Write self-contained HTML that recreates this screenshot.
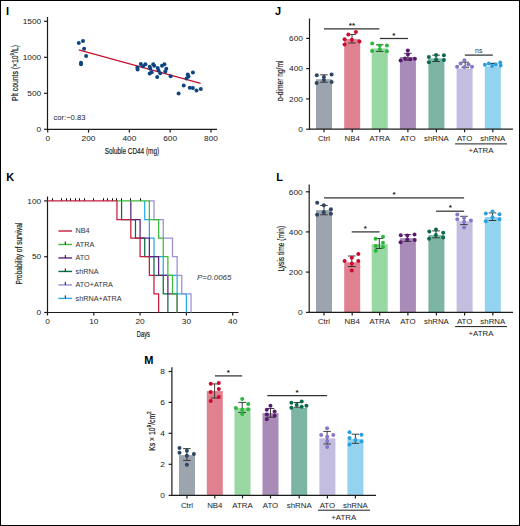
<!DOCTYPE html>
<html><head><meta charset="utf-8"><style>
html,body{margin:0;padding:0;background:#fff;}
.fig{position:relative;width:520px;height:526px;box-sizing:border-box;border:1px solid #000;overflow:hidden;background:#fff;}
svg{position:absolute;left:-1px;top:-1px;}
text{font-family:"Liberation Sans", sans-serif;}
</style></head><body>
<div class="fig"><svg width="520" height="526" viewBox="0 0 520 526">
<text x="6" y="14.6" font-size="11" text-anchor="start" fill="#000" font-weight="bold" font-style="normal" >I</text>
<text x="275" y="14.6" font-size="11" text-anchor="start" fill="#000" font-weight="bold" font-style="normal" >J</text>
<text x="6.3" y="180.8" font-size="11" text-anchor="start" fill="#000" font-weight="bold" font-style="normal" >K</text>
<text x="276.3" y="180.6" font-size="11" text-anchor="start" fill="#000" font-weight="bold" font-style="normal" >L</text>
<text x="144.3" y="363.9" font-size="11" text-anchor="start" fill="#000" font-weight="bold" font-style="normal" >M</text>
<line x1="47.5" y1="17" x2="47.5" y2="129.8" stroke="#1c1c1c" stroke-width="1.2"/>
<line x1="47.0" y1="129.3" x2="217" y2="129.3" stroke="#1c1c1c" stroke-width="1.2"/>
<line x1="44" y1="21.3" x2="47.5" y2="21.3" stroke="#1c1c1c" stroke-width="1.2"/>
<text transform="translate(41.2,24.0) scale(1.1,1)" x="0" y="0" font-size="7.6" text-anchor="end" fill="#222" font-weight="normal" font-style="normal" >1500</text>
<line x1="44" y1="57.3" x2="47.5" y2="57.3" stroke="#1c1c1c" stroke-width="1.2"/>
<text transform="translate(41.2,60.0) scale(1.1,1)" x="0" y="0" font-size="7.6" text-anchor="end" fill="#222" font-weight="normal" font-style="normal" >1000</text>
<line x1="44" y1="93.3" x2="47.5" y2="93.3" stroke="#1c1c1c" stroke-width="1.2"/>
<text transform="translate(41.2,96.0) scale(1.1,1)" x="0" y="0" font-size="7.6" text-anchor="end" fill="#222" font-weight="normal" font-style="normal" >500</text>
<line x1="44" y1="129.3" x2="47.5" y2="129.3" stroke="#1c1c1c" stroke-width="1.2"/>
<text transform="translate(41.2,132.0) scale(1.1,1)" x="0" y="0" font-size="7.6" text-anchor="end" fill="#222" font-weight="normal" font-style="normal" >0</text>
<line x1="47.7" y1="129.3" x2="47.7" y2="132.6" stroke="#1c1c1c" stroke-width="1.2"/>
<text transform="translate(47.7,141.3) scale(1.1,1)" x="0" y="0" font-size="7.6" text-anchor="middle" fill="#222" font-weight="normal" font-style="normal" >0</text>
<line x1="88.52000000000001" y1="129.3" x2="88.52000000000001" y2="132.6" stroke="#1c1c1c" stroke-width="1.2"/>
<text transform="translate(88.52000000000001,141.3) scale(1.1,1)" x="0" y="0" font-size="7.6" text-anchor="middle" fill="#222" font-weight="normal" font-style="normal" >200</text>
<line x1="129.34" y1="129.3" x2="129.34" y2="132.6" stroke="#1c1c1c" stroke-width="1.2"/>
<text transform="translate(129.34,141.3) scale(1.1,1)" x="0" y="0" font-size="7.6" text-anchor="middle" fill="#222" font-weight="normal" font-style="normal" >400</text>
<line x1="170.16" y1="129.3" x2="170.16" y2="132.6" stroke="#1c1c1c" stroke-width="1.2"/>
<text transform="translate(170.16,141.3) scale(1.1,1)" x="0" y="0" font-size="7.6" text-anchor="middle" fill="#222" font-weight="normal" font-style="normal" >600</text>
<line x1="210.98000000000002" y1="129.3" x2="210.98000000000002" y2="132.6" stroke="#1c1c1c" stroke-width="1.2"/>
<text transform="translate(210.98000000000002,141.3) scale(1.1,1)" x="0" y="0" font-size="7.6" text-anchor="middle" fill="#222" font-weight="normal" font-style="normal" >800</text>
<text x="53.5" y="120.0" font-size="7.6" text-anchor="start" fill="#222" font-weight="normal" font-style="normal" >cor:&#8722;0.83</text>
<text transform="translate(131.9,154) scale(0.752,1)" x="0" y="0" font-size="8.5" text-anchor="middle" fill="#222" stroke="#222" stroke-width="0.2">Soluble CD44 (mg)</text>
<text transform="translate(14.8,73) rotate(-90) scale(0.8,1)" x="0" y="0" font-size="8.5" text-anchor="middle" dominant-baseline="central" fill="#222" stroke="#222" stroke-width="0.2">Plt counts (&#215;10<tspan dy="-3" font-size="5.5">9</tspan><tspan dy="3">/L)</tspan></text>
<line x1="78.7" y1="49.8" x2="200.6" y2="83.3" stroke="#c8102e" stroke-width="1.3"/>
<circle cx="78.8" cy="43.1" r="2.0" fill="#0c4581"/>
<circle cx="83.0" cy="41.1" r="2.0" fill="#0c4581"/>
<circle cx="84.1" cy="48.8" r="2.0" fill="#0c4581"/>
<circle cx="86.1" cy="55.9" r="2.0" fill="#0c4581"/>
<circle cx="81" cy="62.8" r="2.0" fill="#0c4581"/>
<circle cx="81" cy="64.2" r="2.0" fill="#0c4581"/>
<circle cx="137.4" cy="67.5" r="2.0" fill="#0c4581"/>
<circle cx="137.6" cy="69.5" r="2.0" fill="#0c4581"/>
<circle cx="140.8" cy="64.1" r="2.0" fill="#0c4581"/>
<circle cx="143" cy="66.2" r="2.0" fill="#0c4581"/>
<circle cx="145.4" cy="64.3" r="2.0" fill="#0c4581"/>
<circle cx="149.7" cy="66.7" r="2.0" fill="#0c4581"/>
<circle cx="150.3" cy="68.8" r="2.0" fill="#0c4581"/>
<circle cx="149.7" cy="73.6" r="2.0" fill="#0c4581"/>
<circle cx="151.6" cy="72.3" r="2.0" fill="#0c4581"/>
<circle cx="153.2" cy="64.3" r="2.0" fill="#0c4581"/>
<circle cx="154.2" cy="65.8" r="2.0" fill="#0c4581"/>
<circle cx="157.7" cy="68" r="2.0" fill="#0c4581"/>
<circle cx="158.5" cy="70.6" r="2.0" fill="#0c4581"/>
<circle cx="160.3" cy="73.2" r="2.0" fill="#0c4581"/>
<circle cx="157.2" cy="77.1" r="2.0" fill="#0c4581"/>
<circle cx="162" cy="65.8" r="2.0" fill="#0c4581"/>
<circle cx="164.4" cy="64.3" r="2.0" fill="#0c4581"/>
<circle cx="166.3" cy="68.8" r="2.0" fill="#0c4581"/>
<circle cx="165.3" cy="71.4" r="2.0" fill="#0c4581"/>
<circle cx="170.6" cy="76.2" r="2.0" fill="#0c4581"/>
<circle cx="187.8" cy="74.4" r="2.0" fill="#0c4581"/>
<circle cx="188.5" cy="76.5" r="2.0" fill="#0c4581"/>
<circle cx="186.5" cy="78.5" r="2.0" fill="#0c4581"/>
<circle cx="192.9" cy="72.5" r="2.0" fill="#0c4581"/>
<circle cx="183.7" cy="85.6" r="2.0" fill="#0c4581"/>
<circle cx="189.8" cy="87.7" r="2.0" fill="#0c4581"/>
<circle cx="192.9" cy="87.9" r="2.0" fill="#0c4581"/>
<circle cx="196.5" cy="90.4" r="2.0" fill="#0c4581"/>
<circle cx="200.8" cy="89" r="2.0" fill="#0c4581"/>
<circle cx="178.6" cy="93.5" r="2.0" fill="#0c4581"/>
<rect x="316" y="79.2" width="16" height="49.999999999999986" fill="#9ca5ae"/>
<rect x="344.2" y="39.1" width="16" height="90.1" fill="#e0818f"/>
<rect x="371.7" y="48.4" width="16" height="80.79999999999998" fill="#98d8a3"/>
<rect x="399.9" y="57.0" width="16" height="72.19999999999999" fill="#a98bb7"/>
<rect x="428.4" y="58.4" width="16" height="70.79999999999998" fill="#7db5a4"/>
<rect x="456.6" y="68.5" width="16" height="60.69999999999999" fill="#c3bee0"/>
<rect x="484.8" y="66.4" width="16" height="62.79999999999998" fill="#94d3ef"/>
<line x1="309.5" y1="18.5" x2="309.5" y2="129.7" stroke="#1c1c1c" stroke-width="1.2"/>
<line x1="309.0" y1="129.2" x2="513" y2="129.2" stroke="#1c1c1c" stroke-width="1.2"/>
<line x1="306.2" y1="38.4" x2="309.5" y2="38.4" stroke="#1c1c1c" stroke-width="1.2"/>
<text transform="translate(303,41.1) scale(1.1,1)" x="0" y="0" font-size="7.6" text-anchor="end" fill="#222" font-weight="normal" font-style="normal" >600</text>
<line x1="306.2" y1="68.6" x2="309.5" y2="68.6" stroke="#1c1c1c" stroke-width="1.2"/>
<text transform="translate(303,71.3) scale(1.1,1)" x="0" y="0" font-size="7.6" text-anchor="end" fill="#222" font-weight="normal" font-style="normal" >400</text>
<line x1="306.2" y1="98.9" x2="309.5" y2="98.9" stroke="#1c1c1c" stroke-width="1.2"/>
<text transform="translate(303,101.60000000000001) scale(1.1,1)" x="0" y="0" font-size="7.6" text-anchor="end" fill="#222" font-weight="normal" font-style="normal" >200</text>
<line x1="306.2" y1="129.2" x2="309.5" y2="129.2" stroke="#1c1c1c" stroke-width="1.2"/>
<text transform="translate(303,131.89999999999998) scale(1.1,1)" x="0" y="0" font-size="7.6" text-anchor="end" fill="#222" font-weight="normal" font-style="normal" >0</text>
<line x1="324" y1="129.2" x2="324" y2="132.2" stroke="#1c1c1c" stroke-width="1.2"/>
<text transform="translate(324,141.2) scale(1.05,1)" x="0" y="0" font-size="7.5" text-anchor="middle" fill="#222" font-weight="normal" font-style="normal" >Ctrl</text>
<line x1="352.2" y1="129.2" x2="352.2" y2="132.2" stroke="#1c1c1c" stroke-width="1.2"/>
<text transform="translate(352.2,141.2) scale(1.05,1)" x="0" y="0" font-size="7.5" text-anchor="middle" fill="#222" font-weight="normal" font-style="normal" >NB4</text>
<line x1="379.7" y1="129.2" x2="379.7" y2="132.2" stroke="#1c1c1c" stroke-width="1.2"/>
<text transform="translate(379.7,141.2) scale(1.05,1)" x="0" y="0" font-size="7.5" text-anchor="middle" fill="#222" font-weight="normal" font-style="normal" >ATRA</text>
<line x1="407.9" y1="129.2" x2="407.9" y2="132.2" stroke="#1c1c1c" stroke-width="1.2"/>
<text transform="translate(407.9,141.2) scale(1.05,1)" x="0" y="0" font-size="7.5" text-anchor="middle" fill="#222" font-weight="normal" font-style="normal" >ATO</text>
<line x1="436.4" y1="129.2" x2="436.4" y2="132.2" stroke="#1c1c1c" stroke-width="1.2"/>
<text transform="translate(436.4,141.2) scale(1.05,1)" x="0" y="0" font-size="7.5" text-anchor="middle" fill="#222" font-weight="normal" font-style="normal" >shRNA</text>
<line x1="464.6" y1="129.2" x2="464.6" y2="132.2" stroke="#1c1c1c" stroke-width="1.2"/>
<text transform="translate(464.6,141.2) scale(1.05,1)" x="0" y="0" font-size="7.5" text-anchor="middle" fill="#222" font-weight="normal" font-style="normal" >ATO</text>
<line x1="492.8" y1="129.2" x2="492.8" y2="132.2" stroke="#1c1c1c" stroke-width="1.2"/>
<text transform="translate(492.8,141.2) scale(1.05,1)" x="0" y="0" font-size="7.5" text-anchor="middle" fill="#222" font-weight="normal" font-style="normal" >shRNA</text>
<line x1="455.1" y1="143.9" x2="507" y2="143.9" stroke="#1c1c1c" stroke-width="1.0"/>
<text transform="translate(481.00000000000006,152.8) scale(1.05,1)" x="0" y="0" font-size="7.5" text-anchor="middle" fill="#222" font-weight="normal" font-style="normal" >+ATRA</text>
<text transform="translate(280.4,80.8) rotate(-90) scale(0.778,1)" x="0" y="0" font-size="8.5" text-anchor="middle" dominant-baseline="central" fill="#222" stroke="#222" stroke-width="0.2"><tspan font-size="6.5">D</tspan>-dimer ng/ml</text>
<line x1="323.9" y1="74.8" x2="323.9" y2="82.2" stroke="#2a2a2a" stroke-width="0.9"/>
<line x1="320.09999999999997" y1="74.8" x2="327.7" y2="74.8" stroke="#2a2a2a" stroke-width="0.9"/>
<line x1="320.09999999999997" y1="82.2" x2="327.7" y2="82.2" stroke="#2a2a2a" stroke-width="0.9"/>
<line x1="352" y1="34.5" x2="352" y2="43" stroke="#2a2a2a" stroke-width="0.9"/>
<line x1="348.2" y1="34.5" x2="355.8" y2="34.5" stroke="#2a2a2a" stroke-width="0.9"/>
<line x1="348.2" y1="43" x2="355.8" y2="43" stroke="#2a2a2a" stroke-width="0.9"/>
<line x1="379.7" y1="44.8" x2="379.7" y2="51.4" stroke="#2a2a2a" stroke-width="0.9"/>
<line x1="375.9" y1="44.8" x2="383.5" y2="44.8" stroke="#2a2a2a" stroke-width="0.9"/>
<line x1="375.9" y1="51.4" x2="383.5" y2="51.4" stroke="#2a2a2a" stroke-width="0.9"/>
<line x1="407.9" y1="53.3" x2="407.9" y2="60.2" stroke="#2a2a2a" stroke-width="0.9"/>
<line x1="404.09999999999997" y1="53.3" x2="411.7" y2="53.3" stroke="#2a2a2a" stroke-width="0.9"/>
<line x1="404.09999999999997" y1="60.2" x2="411.7" y2="60.2" stroke="#2a2a2a" stroke-width="0.9"/>
<line x1="436.1" y1="55.2" x2="436.1" y2="61.5" stroke="#2a2a2a" stroke-width="0.9"/>
<line x1="432.3" y1="55.2" x2="439.90000000000003" y2="55.2" stroke="#2a2a2a" stroke-width="0.9"/>
<line x1="432.3" y1="61.5" x2="439.90000000000003" y2="61.5" stroke="#2a2a2a" stroke-width="0.9"/>
<line x1="465.2" y1="62.2" x2="465.2" y2="67.3" stroke="#2a2a2a" stroke-width="0.9"/>
<line x1="461.4" y1="62.2" x2="469.0" y2="62.2" stroke="#2a2a2a" stroke-width="0.9"/>
<line x1="461.4" y1="67.3" x2="469.0" y2="67.3" stroke="#2a2a2a" stroke-width="0.9"/>
<line x1="492.9" y1="63.3" x2="492.9" y2="63.9" stroke="#2a2a2a" stroke-width="0.9"/>
<line x1="489.09999999999997" y1="63.3" x2="496.7" y2="63.3" stroke="#2a2a2a" stroke-width="0.9"/>
<line x1="489.09999999999997" y1="63.9" x2="496.7" y2="63.9" stroke="#2a2a2a" stroke-width="0.9"/>
<circle cx="316.8" cy="75.3" r="2.0" fill="#2e4560"/>
<circle cx="331.6" cy="74.4" r="2.0" fill="#2e4560"/>
<circle cx="316.6" cy="82.9" r="2.0" fill="#2e4560"/>
<circle cx="331.6" cy="81.9" r="2.0" fill="#2e4560"/>
<circle cx="323.9" cy="77" r="2.0" fill="#2e4560"/>
<circle cx="323.9" cy="80" r="2.0" fill="#2e4560"/>
<circle cx="355.9" cy="32.1" r="2.0" fill="#cc0a2e"/>
<circle cx="348.3" cy="34.4" r="2.0" fill="#cc0a2e"/>
<circle cx="344.6" cy="39.3" r="2.0" fill="#cc0a2e"/>
<circle cx="351.9" cy="39.8" r="2.0" fill="#cc0a2e"/>
<circle cx="359.4" cy="41.4" r="2.0" fill="#cc0a2e"/>
<circle cx="344.6" cy="44.4" r="2.0" fill="#cc0a2e"/>
<circle cx="372.2" cy="43.5" r="2.0" fill="#2cb83c"/>
<circle cx="386.9" cy="45.4" r="2.0" fill="#2cb83c"/>
<circle cx="372.1" cy="50.9" r="2.0" fill="#2cb83c"/>
<circle cx="386.9" cy="51.2" r="2.0" fill="#2cb83c"/>
<circle cx="379.8" cy="45.4" r="2.0" fill="#2cb83c"/>
<circle cx="379.8" cy="49.3" r="2.0" fill="#2cb83c"/>
<circle cx="407.8" cy="50.4" r="2.0" fill="#5b1a72"/>
<circle cx="407.9" cy="54.5" r="2.0" fill="#5b1a72"/>
<circle cx="405" cy="58.4" r="2.0" fill="#5b1a72"/>
<circle cx="410.3" cy="59.2" r="2.0" fill="#5b1a72"/>
<circle cx="414.9" cy="58.8" r="2.0" fill="#5b1a72"/>
<circle cx="400.6" cy="60.5" r="2.0" fill="#5b1a72"/>
<circle cx="428.9" cy="56.9" r="2.0" fill="#0b6a4c"/>
<circle cx="428.9" cy="62.2" r="2.0" fill="#0b6a4c"/>
<circle cx="436.1" cy="54.9" r="2.0" fill="#0b6a4c"/>
<circle cx="436.1" cy="59.5" r="2.0" fill="#0b6a4c"/>
<circle cx="443.9" cy="55.2" r="2.0" fill="#0b6a4c"/>
<circle cx="443.9" cy="60.1" r="2.0" fill="#0b6a4c"/>
<circle cx="464.4" cy="60.2" r="2.0" fill="#8877c6"/>
<circle cx="460.6" cy="63.6" r="2.0" fill="#8877c6"/>
<circle cx="468.5" cy="64.5" r="2.0" fill="#8877c6"/>
<circle cx="457.1" cy="66.7" r="2.0" fill="#8877c6"/>
<circle cx="464.4" cy="67" r="2.0" fill="#8877c6"/>
<circle cx="472" cy="66.7" r="2.0" fill="#8877c6"/>
<circle cx="484.9" cy="64.8" r="2.0" fill="#2a9fe2"/>
<circle cx="488.8" cy="63.4" r="2.0" fill="#2a9fe2"/>
<circle cx="492.1" cy="65.9" r="2.0" fill="#2a9fe2"/>
<circle cx="495.8" cy="64.5" r="2.0" fill="#2a9fe2"/>
<circle cx="500.2" cy="62.5" r="2.0" fill="#2a9fe2"/>
<circle cx="500.6" cy="65.5" r="2.0" fill="#2a9fe2"/>
<line x1="324" y1="28.8" x2="379.4" y2="28.8" stroke="#333" stroke-width="1.25"/>
<text x="351.9" y="27.799999999999997" font-size="8" text-anchor="middle" fill="#111" font-weight="bold" font-style="normal" >**</text>
<line x1="379.8" y1="38.5" x2="408" y2="38.5" stroke="#333" stroke-width="1.25"/>
<text x="393.8" y="37.5" font-size="8" text-anchor="middle" fill="#111" font-weight="bold" font-style="normal" >*</text>
<line x1="464.8" y1="55.1" x2="492.8" y2="55.1" stroke="#333" stroke-width="1.25"/>
<text x="478.8" y="53" font-size="7" text-anchor="middle" fill="#333" font-weight="normal" font-style="normal" >ns</text>
<line x1="47.5" y1="196.5" x2="47.5" y2="313.0" stroke="#1c1c1c" stroke-width="1.2"/>
<line x1="47.0" y1="312.5" x2="238.5" y2="312.5" stroke="#1c1c1c" stroke-width="1.2"/>
<line x1="44.2" y1="200.9" x2="47.5" y2="200.9" stroke="#1c1c1c" stroke-width="1.2"/>
<text transform="translate(41.2,203.6) scale(1.1,1)" x="0" y="0" font-size="7.6" text-anchor="end" fill="#222" font-weight="normal" font-style="normal" >100</text>
<line x1="44.2" y1="256.7" x2="47.5" y2="256.7" stroke="#1c1c1c" stroke-width="1.2"/>
<text transform="translate(41.2,259.4) scale(1.1,1)" x="0" y="0" font-size="7.6" text-anchor="end" fill="#222" font-weight="normal" font-style="normal" >50</text>
<line x1="44.2" y1="312.5" x2="47.5" y2="312.5" stroke="#1c1c1c" stroke-width="1.2"/>
<text transform="translate(41.2,315.2) scale(1.1,1)" x="0" y="0" font-size="7.6" text-anchor="end" fill="#222" font-weight="normal" font-style="normal" >0</text>
<line x1="47.5" y1="312.5" x2="47.5" y2="315.5" stroke="#1c1c1c" stroke-width="1.2"/>
<text transform="translate(47.5,323.8) scale(1.1,1)" x="0" y="0" font-size="7.6" text-anchor="middle" fill="#222" font-weight="normal" font-style="normal" >0</text>
<line x1="93.8" y1="312.5" x2="93.8" y2="315.5" stroke="#1c1c1c" stroke-width="1.2"/>
<text transform="translate(93.8,323.8) scale(1.1,1)" x="0" y="0" font-size="7.6" text-anchor="middle" fill="#222" font-weight="normal" font-style="normal" >10</text>
<line x1="140.1" y1="312.5" x2="140.1" y2="315.5" stroke="#1c1c1c" stroke-width="1.2"/>
<text transform="translate(140.1,323.8) scale(1.1,1)" x="0" y="0" font-size="7.6" text-anchor="middle" fill="#222" font-weight="normal" font-style="normal" >20</text>
<line x1="186.4" y1="312.5" x2="186.4" y2="315.5" stroke="#1c1c1c" stroke-width="1.2"/>
<text transform="translate(186.4,323.8) scale(1.1,1)" x="0" y="0" font-size="7.6" text-anchor="middle" fill="#222" font-weight="normal" font-style="normal" >30</text>
<line x1="232.7" y1="312.5" x2="232.7" y2="315.5" stroke="#1c1c1c" stroke-width="1.2"/>
<text transform="translate(232.7,323.8) scale(1.1,1)" x="0" y="0" font-size="7.6" text-anchor="middle" fill="#222" font-weight="normal" font-style="normal" >40</text>
<text transform="translate(143.4,336.5) scale(0.68,1)" x="0" y="0" font-size="8.5" text-anchor="middle" fill="#222" stroke="#222" stroke-width="0.2">Days</text>
<text transform="translate(19.1,253.6) rotate(-90) scale(0.77,1)" x="0" y="0" font-size="8.5" text-anchor="middle" dominant-baseline="central" fill="#222" stroke="#222" stroke-width="0.2">Probability of survival</text>
<path d="M121.58,200.90 H121.58 V219.50 H135.47 V238.10 H144.73 V256.70 H153.99 V275.30 H163.25 V293.90 H167.88 V312.50" fill="none" stroke="#0b6a4c" stroke-width="1.25" stroke-linejoin="miter"/>
<path d="M144.73,200.90 H144.73 V219.50 H149.36 V238.10 H153.99 V256.70 H163.25 V275.30 H177.14 V293.90 H186.40 V312.50" fill="none" stroke="#27a9e6" stroke-width="1.25" stroke-linejoin="miter"/>
<path d="M130.84,200.90 H130.84 V219.50 H140.10 V238.10 H149.36 V256.70 H158.62 V275.30 H167.88 V293.90 H177.14 V312.50" fill="none" stroke="#5e237c" stroke-width="1.25" stroke-linejoin="miter"/>
<path d="M149.36,200.90 H153.99 V219.50 H163.25 V238.10 H172.51 V256.70 H177.14 V275.30 H181.77 V293.90 H191.03 V312.50" fill="none" stroke="#9a8fd4" stroke-width="1.25" stroke-linejoin="miter"/>
<path d="M116.95,200.90 H149.36 V219.50 H158.62 V238.10 H163.25 V256.70 H167.88 V275.30 H172.51 V293.90 H177.14 V312.50" fill="none" stroke="#3cbc3c" stroke-width="1.25" stroke-linejoin="miter"/>
<path d="M47.50,200.90 H116.95 V219.50 H130.84 V238.10 H140.10 V256.70 H149.36 V275.30 H153.99 V293.90 H158.62 V312.50" fill="none" stroke="#c81c3c" stroke-width="1.25" stroke-linejoin="miter"/>
<line x1="52.5" y1="198.3" x2="52.5" y2="200.5" stroke="#000" stroke-width="1.0"/>
<line x1="61.5" y1="198.3" x2="61.5" y2="200.5" stroke="#000" stroke-width="1.0"/>
<line x1="66.5" y1="198.3" x2="66.5" y2="200.5" stroke="#000" stroke-width="1.0"/>
<line x1="70.5" y1="198.3" x2="70.5" y2="200.5" stroke="#000" stroke-width="1.0"/>
<line x1="75.5" y1="198.3" x2="75.5" y2="200.5" stroke="#000" stroke-width="1.0"/>
<line x1="79.5" y1="198.3" x2="79.5" y2="200.5" stroke="#000" stroke-width="1.0"/>
<line x1="84.5" y1="198.3" x2="84.5" y2="200.5" stroke="#000" stroke-width="1.0"/>
<line x1="93.5" y1="198.3" x2="93.5" y2="200.5" stroke="#000" stroke-width="1.0"/>
<line x1="103.5" y1="198.3" x2="103.5" y2="200.5" stroke="#000" stroke-width="1.0"/>
<line x1="107.5" y1="198.3" x2="107.5" y2="200.5" stroke="#000" stroke-width="1.0"/>
<line x1="112.5" y1="198.3" x2="112.5" y2="200.5" stroke="#000" stroke-width="1.0"/>
<line x1="116.5" y1="198.3" x2="116.5" y2="200.5" stroke="#000" stroke-width="1.0"/>
<line x1="121.5" y1="198.3" x2="121.5" y2="200.5" stroke="#000" stroke-width="1.0"/>
<line x1="130.5" y1="198.3" x2="130.5" y2="200.5" stroke="#000" stroke-width="1.0"/>
<line x1="140.5" y1="198.3" x2="140.5" y2="200.5" stroke="#000" stroke-width="1.0"/>
<line x1="58.4" y1="231.0" x2="72.1" y2="231.0" stroke="#c81c3c" stroke-width="1.4"/>
<text transform="translate(75.5,233.3) scale(0.97,1)" x="0" y="0" font-size="7.5" text-anchor="start" fill="#333" font-weight="normal" font-style="normal" >NB4</text>
<line x1="58.4" y1="244.48" x2="72.1" y2="244.48" stroke="#3cbc3c" stroke-width="1.4"/>
<line x1="65.3" y1="241.48" x2="65.3" y2="244.48" stroke="#111" stroke-width="1.0"/>
<text transform="translate(75.5,246.78) scale(0.97,1)" x="0" y="0" font-size="7.5" text-anchor="start" fill="#333" font-weight="normal" font-style="normal" >ATRA</text>
<line x1="58.4" y1="257.96" x2="72.1" y2="257.96" stroke="#5e237c" stroke-width="1.4"/>
<line x1="65.3" y1="254.95999999999998" x2="65.3" y2="257.96" stroke="#111" stroke-width="1.0"/>
<text transform="translate(75.5,260.26) scale(0.97,1)" x="0" y="0" font-size="7.5" text-anchor="start" fill="#333" font-weight="normal" font-style="normal" >ATO</text>
<line x1="58.4" y1="271.44" x2="72.1" y2="271.44" stroke="#0b6a4c" stroke-width="1.4"/>
<line x1="65.3" y1="268.44" x2="65.3" y2="271.44" stroke="#111" stroke-width="1.0"/>
<text transform="translate(75.5,273.74) scale(0.97,1)" x="0" y="0" font-size="7.5" text-anchor="start" fill="#333" font-weight="normal" font-style="normal" >shRNA</text>
<line x1="58.4" y1="284.92" x2="72.1" y2="284.92" stroke="#9a8fd4" stroke-width="1.4"/>
<line x1="65.3" y1="281.92" x2="65.3" y2="284.92" stroke="#111" stroke-width="1.0"/>
<text transform="translate(75.5,287.22) scale(0.97,1)" x="0" y="0" font-size="7.5" text-anchor="start" fill="#333" font-weight="normal" font-style="normal" >ATO+ATRA</text>
<line x1="58.4" y1="298.4" x2="72.1" y2="298.4" stroke="#27a9e6" stroke-width="1.4"/>
<line x1="65.3" y1="295.4" x2="65.3" y2="298.4" stroke="#111" stroke-width="1.0"/>
<text transform="translate(75.5,300.7) scale(0.97,1)" x="0" y="0" font-size="7.5" text-anchor="start" fill="#333" font-weight="normal" font-style="normal" >shRNA+ATRA</text>
<text x="197" y="280" font-size="8" text-anchor="start" fill="#333" font-weight="normal" font-style="italic" >P=0.0065</text>
<rect x="316" y="210.1" width="16" height="102.29999999999998" fill="#9ca5ae"/>
<rect x="344.2" y="262.3" width="16" height="50.099999999999966" fill="#e0818f"/>
<rect x="371.7" y="244.1" width="16" height="68.29999999999998" fill="#98d8a3"/>
<rect x="399.9" y="238.2" width="16" height="74.19999999999999" fill="#a98bb7"/>
<rect x="428.4" y="235.1" width="16" height="77.29999999999998" fill="#7db5a4"/>
<rect x="456.6" y="221.2" width="16" height="91.19999999999999" fill="#c3bee0"/>
<rect x="484.8" y="217.1" width="16" height="95.29999999999998" fill="#94d3ef"/>
<line x1="309.2" y1="184.4" x2="309.2" y2="312.9" stroke="#1c1c1c" stroke-width="1.2"/>
<line x1="308.7" y1="312.4" x2="513" y2="312.4" stroke="#1c1c1c" stroke-width="1.2"/>
<line x1="305.9" y1="191.8" x2="309.2" y2="191.8" stroke="#1c1c1c" stroke-width="1.2"/>
<text transform="translate(302.7,194.5) scale(1.1,1)" x="0" y="0" font-size="7.6" text-anchor="end" fill="#222" font-weight="normal" font-style="normal" >600</text>
<line x1="305.9" y1="231.9" x2="309.2" y2="231.9" stroke="#1c1c1c" stroke-width="1.2"/>
<text transform="translate(302.7,234.6) scale(1.1,1)" x="0" y="0" font-size="7.6" text-anchor="end" fill="#222" font-weight="normal" font-style="normal" >400</text>
<line x1="305.9" y1="272.1" x2="309.2" y2="272.1" stroke="#1c1c1c" stroke-width="1.2"/>
<text transform="translate(302.7,274.8) scale(1.1,1)" x="0" y="0" font-size="7.6" text-anchor="end" fill="#222" font-weight="normal" font-style="normal" >200</text>
<line x1="305.9" y1="312.4" x2="309.2" y2="312.4" stroke="#1c1c1c" stroke-width="1.2"/>
<text transform="translate(302.7,315.09999999999997) scale(1.1,1)" x="0" y="0" font-size="7.6" text-anchor="end" fill="#222" font-weight="normal" font-style="normal" >0</text>
<line x1="324" y1="312.4" x2="324" y2="315.4" stroke="#1c1c1c" stroke-width="1.2"/>
<text transform="translate(324,324.0) scale(1.05,1)" x="0" y="0" font-size="7.5" text-anchor="middle" fill="#222" font-weight="normal" font-style="normal" >Ctrl</text>
<line x1="352.2" y1="312.4" x2="352.2" y2="315.4" stroke="#1c1c1c" stroke-width="1.2"/>
<text transform="translate(352.2,324.0) scale(1.05,1)" x="0" y="0" font-size="7.5" text-anchor="middle" fill="#222" font-weight="normal" font-style="normal" >NB4</text>
<line x1="379.7" y1="312.4" x2="379.7" y2="315.4" stroke="#1c1c1c" stroke-width="1.2"/>
<text transform="translate(379.7,324.0) scale(1.05,1)" x="0" y="0" font-size="7.5" text-anchor="middle" fill="#222" font-weight="normal" font-style="normal" >ATRA</text>
<line x1="407.9" y1="312.4" x2="407.9" y2="315.4" stroke="#1c1c1c" stroke-width="1.2"/>
<text transform="translate(407.9,324.0) scale(1.05,1)" x="0" y="0" font-size="7.5" text-anchor="middle" fill="#222" font-weight="normal" font-style="normal" >ATO</text>
<line x1="436.4" y1="312.4" x2="436.4" y2="315.4" stroke="#1c1c1c" stroke-width="1.2"/>
<text transform="translate(436.4,324.0) scale(1.05,1)" x="0" y="0" font-size="7.5" text-anchor="middle" fill="#222" font-weight="normal" font-style="normal" >shRNA</text>
<line x1="464.6" y1="312.4" x2="464.6" y2="315.4" stroke="#1c1c1c" stroke-width="1.2"/>
<text transform="translate(464.6,324.0) scale(1.05,1)" x="0" y="0" font-size="7.5" text-anchor="middle" fill="#222" font-weight="normal" font-style="normal" >ATO</text>
<line x1="492.8" y1="312.4" x2="492.8" y2="315.4" stroke="#1c1c1c" stroke-width="1.2"/>
<text transform="translate(492.8,324.0) scale(1.05,1)" x="0" y="0" font-size="7.5" text-anchor="middle" fill="#222" font-weight="normal" font-style="normal" >shRNA</text>
<line x1="455.1" y1="326.6" x2="507" y2="326.6" stroke="#1c1c1c" stroke-width="1.0"/>
<text transform="translate(481.00000000000006,336.0) scale(1.05,1)" x="0" y="0" font-size="7.5" text-anchor="middle" fill="#222" font-weight="normal" font-style="normal" >+ATRA</text>
<text transform="translate(281.3,248.7) rotate(-90) scale(0.776,1)" x="0" y="0" font-size="8.5" text-anchor="middle" dominant-baseline="central" fill="#222" stroke="#222" stroke-width="0.2">Lysis time (min)</text>
<line x1="324" y1="205.4" x2="324" y2="214.8" stroke="#2a2a2a" stroke-width="0.9"/>
<line x1="320.2" y1="205.4" x2="327.8" y2="205.4" stroke="#2a2a2a" stroke-width="0.9"/>
<line x1="320.2" y1="214.8" x2="327.8" y2="214.8" stroke="#2a2a2a" stroke-width="0.9"/>
<line x1="351.8" y1="256" x2="351.8" y2="266.5" stroke="#2a2a2a" stroke-width="0.9"/>
<line x1="348.0" y1="256" x2="355.6" y2="256" stroke="#2a2a2a" stroke-width="0.9"/>
<line x1="348.0" y1="266.5" x2="355.6" y2="266.5" stroke="#2a2a2a" stroke-width="0.9"/>
<line x1="379.3" y1="238.5" x2="379.3" y2="248.5" stroke="#2a2a2a" stroke-width="0.9"/>
<line x1="375.5" y1="238.5" x2="383.1" y2="238.5" stroke="#2a2a2a" stroke-width="0.9"/>
<line x1="375.5" y1="248.5" x2="383.1" y2="248.5" stroke="#2a2a2a" stroke-width="0.9"/>
<line x1="407.5" y1="234.7" x2="407.5" y2="241.4" stroke="#2a2a2a" stroke-width="0.9"/>
<line x1="403.7" y1="234.7" x2="411.3" y2="234.7" stroke="#2a2a2a" stroke-width="0.9"/>
<line x1="403.7" y1="241.4" x2="411.3" y2="241.4" stroke="#2a2a2a" stroke-width="0.9"/>
<line x1="436" y1="230.9" x2="436" y2="237.8" stroke="#2a2a2a" stroke-width="0.9"/>
<line x1="432.2" y1="230.9" x2="439.8" y2="230.9" stroke="#2a2a2a" stroke-width="0.9"/>
<line x1="432.2" y1="237.8" x2="439.8" y2="237.8" stroke="#2a2a2a" stroke-width="0.9"/>
<line x1="464" y1="216.3" x2="464" y2="224.6" stroke="#2a2a2a" stroke-width="0.9"/>
<line x1="460.2" y1="216.3" x2="467.8" y2="216.3" stroke="#2a2a2a" stroke-width="0.9"/>
<line x1="460.2" y1="224.6" x2="467.8" y2="224.6" stroke="#2a2a2a" stroke-width="0.9"/>
<line x1="492.5" y1="212.9" x2="492.5" y2="220.5" stroke="#2a2a2a" stroke-width="0.9"/>
<line x1="488.7" y1="212.9" x2="496.3" y2="212.9" stroke="#2a2a2a" stroke-width="0.9"/>
<line x1="488.7" y1="220.5" x2="496.3" y2="220.5" stroke="#2a2a2a" stroke-width="0.9"/>
<circle cx="317.2" cy="202.8" r="2.0" fill="#2e4560"/>
<circle cx="323.8" cy="205.2" r="2.0" fill="#2e4560"/>
<circle cx="330.9" cy="209.3" r="2.0" fill="#2e4560"/>
<circle cx="323.8" cy="212.3" r="2.0" fill="#2e4560"/>
<circle cx="317.1" cy="214.8" r="2.0" fill="#2e4560"/>
<circle cx="330.9" cy="213.7" r="2.0" fill="#2e4560"/>
<circle cx="358.3" cy="254.1" r="2.0" fill="#cc0a2e"/>
<circle cx="351.8" cy="257.7" r="2.0" fill="#cc0a2e"/>
<circle cx="344.6" cy="260.9" r="2.0" fill="#cc0a2e"/>
<circle cx="358.3" cy="260.9" r="2.0" fill="#cc0a2e"/>
<circle cx="351.8" cy="263.5" r="2.0" fill="#cc0a2e"/>
<circle cx="351.8" cy="270.4" r="2.0" fill="#cc0a2e"/>
<circle cx="383" cy="236.7" r="2.0" fill="#2cb83c"/>
<circle cx="375.6" cy="238.8" r="2.0" fill="#2cb83c"/>
<circle cx="383" cy="242.7" r="2.0" fill="#2cb83c"/>
<circle cx="375.8" cy="245.9" r="2.0" fill="#2cb83c"/>
<circle cx="383" cy="247.1" r="2.0" fill="#2cb83c"/>
<circle cx="375.8" cy="250.8" r="2.0" fill="#2cb83c"/>
<circle cx="400.8" cy="235.2" r="2.0" fill="#5b1a72"/>
<circle cx="407.3" cy="235.4" r="2.0" fill="#5b1a72"/>
<circle cx="414.5" cy="234.5" r="2.0" fill="#5b1a72"/>
<circle cx="407.3" cy="239.5" r="2.0" fill="#5b1a72"/>
<circle cx="400.6" cy="242.3" r="2.0" fill="#5b1a72"/>
<circle cx="414.7" cy="240.1" r="2.0" fill="#5b1a72"/>
<circle cx="429.3" cy="231.4" r="2.0" fill="#0b6a4c"/>
<circle cx="436" cy="229.5" r="2.0" fill="#0b6a4c"/>
<circle cx="443.2" cy="232.8" r="2.0" fill="#0b6a4c"/>
<circle cx="435.9" cy="235.1" r="2.0" fill="#0b6a4c"/>
<circle cx="429.1" cy="238.8" r="2.0" fill="#0b6a4c"/>
<circle cx="443.2" cy="237.4" r="2.0" fill="#0b6a4c"/>
<circle cx="457.3" cy="214.5" r="2.0" fill="#8877c6"/>
<circle cx="457.3" cy="219.3" r="2.0" fill="#8877c6"/>
<circle cx="464.1" cy="217.9" r="2.0" fill="#8877c6"/>
<circle cx="464.1" cy="221.8" r="2.0" fill="#8877c6"/>
<circle cx="470.9" cy="220.4" r="2.0" fill="#8877c6"/>
<circle cx="464.1" cy="227.6" r="2.0" fill="#8877c6"/>
<circle cx="485.8" cy="213.4" r="2.0" fill="#2a9fe2"/>
<circle cx="492.5" cy="211.5" r="2.0" fill="#2a9fe2"/>
<circle cx="499.5" cy="214.3" r="2.0" fill="#2a9fe2"/>
<circle cx="492.5" cy="217.3" r="2.0" fill="#2a9fe2"/>
<circle cx="485.8" cy="221.2" r="2.0" fill="#2a9fe2"/>
<circle cx="499.5" cy="219.2" r="2.0" fill="#2a9fe2"/>
<line x1="324" y1="197.9" x2="464.1" y2="197.9" stroke="#333" stroke-width="1.25"/>
<text x="394" y="196.9" font-size="8" text-anchor="middle" fill="#111" font-weight="bold" font-style="normal" >*</text>
<line x1="351.7" y1="231.9" x2="379.6" y2="231.9" stroke="#333" stroke-width="1.25"/>
<text x="365.2" y="230.9" font-size="8" text-anchor="middle" fill="#111" font-weight="bold" font-style="normal" >*</text>
<line x1="436.1" y1="211.2" x2="464.1" y2="211.2" stroke="#333" stroke-width="1.25"/>
<text x="450.3" y="210.2" font-size="8" text-anchor="middle" fill="#111" font-weight="bold" font-style="normal" >*</text>
<rect x="179" y="455.1" width="16" height="40.299999999999955" fill="#9ca5ae"/>
<rect x="206.8" y="391.1" width="16" height="104.29999999999995" fill="#e0818f"/>
<rect x="234.5" y="407.9" width="16" height="87.5" fill="#98d8a3"/>
<rect x="262.5" y="413.1" width="16" height="82.29999999999995" fill="#a98bb7"/>
<rect x="291.2" y="408.0" width="16" height="87.39999999999998" fill="#7db5a4"/>
<rect x="319.4" y="438.3" width="16" height="57.099999999999966" fill="#c3bee0"/>
<rect x="347.4" y="439.1" width="16" height="56.299999999999955" fill="#94d3ef"/>
<line x1="171.9" y1="367.3" x2="171.9" y2="495.9" stroke="#1c1c1c" stroke-width="1.2"/>
<line x1="171.4" y1="495.4" x2="376" y2="495.4" stroke="#1c1c1c" stroke-width="1.2"/>
<line x1="168.6" y1="371.5" x2="171.9" y2="371.5" stroke="#1c1c1c" stroke-width="1.2"/>
<text transform="translate(165,374.2) scale(1.1,1)" x="0" y="0" font-size="7.6" text-anchor="end" fill="#222" font-weight="normal" font-style="normal" >8</text>
<line x1="168.6" y1="402.4" x2="171.9" y2="402.4" stroke="#1c1c1c" stroke-width="1.2"/>
<text transform="translate(165,405.09999999999997) scale(1.1,1)" x="0" y="0" font-size="7.6" text-anchor="end" fill="#222" font-weight="normal" font-style="normal" >6</text>
<line x1="168.6" y1="433.3" x2="171.9" y2="433.3" stroke="#1c1c1c" stroke-width="1.2"/>
<text transform="translate(165,436.0) scale(1.1,1)" x="0" y="0" font-size="7.6" text-anchor="end" fill="#222" font-weight="normal" font-style="normal" >4</text>
<line x1="168.6" y1="464.3" x2="171.9" y2="464.3" stroke="#1c1c1c" stroke-width="1.2"/>
<text transform="translate(165,467.0) scale(1.1,1)" x="0" y="0" font-size="7.6" text-anchor="end" fill="#222" font-weight="normal" font-style="normal" >2</text>
<line x1="168.6" y1="495.4" x2="171.9" y2="495.4" stroke="#1c1c1c" stroke-width="1.2"/>
<text transform="translate(165,498.09999999999997) scale(1.1,1)" x="0" y="0" font-size="7.6" text-anchor="end" fill="#222" font-weight="normal" font-style="normal" >0</text>
<line x1="187" y1="495.4" x2="187" y2="498.4" stroke="#1c1c1c" stroke-width="1.2"/>
<text transform="translate(187,507.6) scale(1.05,1)" x="0" y="0" font-size="7.5" text-anchor="middle" fill="#222" font-weight="normal" font-style="normal" >Ctrl</text>
<line x1="214.8" y1="495.4" x2="214.8" y2="498.4" stroke="#1c1c1c" stroke-width="1.2"/>
<text transform="translate(214.8,507.6) scale(1.05,1)" x="0" y="0" font-size="7.5" text-anchor="middle" fill="#222" font-weight="normal" font-style="normal" >NB4</text>
<line x1="242.5" y1="495.4" x2="242.5" y2="498.4" stroke="#1c1c1c" stroke-width="1.2"/>
<text transform="translate(242.5,507.6) scale(1.05,1)" x="0" y="0" font-size="7.5" text-anchor="middle" fill="#222" font-weight="normal" font-style="normal" >ATRA</text>
<line x1="270.5" y1="495.4" x2="270.5" y2="498.4" stroke="#1c1c1c" stroke-width="1.2"/>
<text transform="translate(270.5,507.6) scale(1.05,1)" x="0" y="0" font-size="7.5" text-anchor="middle" fill="#222" font-weight="normal" font-style="normal" >ATO</text>
<line x1="299.2" y1="495.4" x2="299.2" y2="498.4" stroke="#1c1c1c" stroke-width="1.2"/>
<text transform="translate(299.2,507.6) scale(1.05,1)" x="0" y="0" font-size="7.5" text-anchor="middle" fill="#222" font-weight="normal" font-style="normal" >shRNA</text>
<line x1="327.4" y1="495.4" x2="327.4" y2="498.4" stroke="#1c1c1c" stroke-width="1.2"/>
<text transform="translate(327.4,507.6) scale(1.05,1)" x="0" y="0" font-size="7.5" text-anchor="middle" fill="#222" font-weight="normal" font-style="normal" >ATO</text>
<line x1="355.4" y1="495.4" x2="355.4" y2="498.4" stroke="#1c1c1c" stroke-width="1.2"/>
<text transform="translate(355.4,507.6) scale(1.05,1)" x="0" y="0" font-size="7.5" text-anchor="middle" fill="#222" font-weight="normal" font-style="normal" >shRNA</text>
<line x1="317.9" y1="510.2" x2="370" y2="510.2" stroke="#1c1c1c" stroke-width="1.0"/>
<text transform="translate(343.7,519.6) scale(1.05,1)" x="0" y="0" font-size="7.5" text-anchor="middle" fill="#222" font-weight="normal" font-style="normal" >+ATRA</text>
<text transform="translate(152,431) rotate(-90) scale(0.8,1)" x="0" y="0" font-size="8.5" text-anchor="middle" dominant-baseline="central" fill="#222" stroke="#222" stroke-width="0.2">Ks &#215; 10<tspan dy="-3" font-size="6">9</tspan><tspan dy="3">/cm</tspan><tspan dy="-3" font-size="6">2</tspan></text>
<line x1="186.9" y1="448.6" x2="186.9" y2="460.4" stroke="#2a2a2a" stroke-width="0.9"/>
<line x1="183.1" y1="448.6" x2="190.70000000000002" y2="448.6" stroke="#2a2a2a" stroke-width="0.9"/>
<line x1="183.1" y1="460.4" x2="190.70000000000002" y2="460.4" stroke="#2a2a2a" stroke-width="0.9"/>
<line x1="214.6" y1="383.9" x2="214.6" y2="398" stroke="#2a2a2a" stroke-width="0.9"/>
<line x1="210.79999999999998" y1="383.9" x2="218.4" y2="383.9" stroke="#2a2a2a" stroke-width="0.9"/>
<line x1="210.79999999999998" y1="398" x2="218.4" y2="398" stroke="#2a2a2a" stroke-width="0.9"/>
<line x1="242.2" y1="402.4" x2="242.2" y2="412.4" stroke="#2a2a2a" stroke-width="0.9"/>
<line x1="238.39999999999998" y1="402.4" x2="246.0" y2="402.4" stroke="#2a2a2a" stroke-width="0.9"/>
<line x1="238.39999999999998" y1="412.4" x2="246.0" y2="412.4" stroke="#2a2a2a" stroke-width="0.9"/>
<line x1="270.5" y1="408.5" x2="270.5" y2="417.2" stroke="#2a2a2a" stroke-width="0.9"/>
<line x1="266.7" y1="408.5" x2="274.3" y2="408.5" stroke="#2a2a2a" stroke-width="0.9"/>
<line x1="266.7" y1="417.2" x2="274.3" y2="417.2" stroke="#2a2a2a" stroke-width="0.9"/>
<line x1="297.4" y1="402.5" x2="297.4" y2="407.3" stroke="#2a2a2a" stroke-width="0.9"/>
<line x1="293.59999999999997" y1="402.5" x2="301.2" y2="402.5" stroke="#2a2a2a" stroke-width="0.9"/>
<line x1="293.59999999999997" y1="407.3" x2="301.2" y2="407.3" stroke="#2a2a2a" stroke-width="0.9"/>
<line x1="327.1" y1="431.4" x2="327.1" y2="444" stroke="#2a2a2a" stroke-width="0.9"/>
<line x1="323.3" y1="431.4" x2="330.90000000000003" y2="431.4" stroke="#2a2a2a" stroke-width="0.9"/>
<line x1="323.3" y1="444" x2="330.90000000000003" y2="444" stroke="#2a2a2a" stroke-width="0.9"/>
<line x1="355.4" y1="434.2" x2="355.4" y2="443.3" stroke="#2a2a2a" stroke-width="0.9"/>
<line x1="351.59999999999997" y1="434.2" x2="359.2" y2="434.2" stroke="#2a2a2a" stroke-width="0.9"/>
<line x1="351.59999999999997" y1="443.3" x2="359.2" y2="443.3" stroke="#2a2a2a" stroke-width="0.9"/>
<circle cx="179.5" cy="447.9" r="2.0" fill="#2e4560"/>
<circle cx="179.5" cy="452.8" r="2.0" fill="#2e4560"/>
<circle cx="186.9" cy="450.7" r="2.0" fill="#2e4560"/>
<circle cx="186.9" cy="455.8" r="2.0" fill="#2e4560"/>
<circle cx="193.9" cy="453.9" r="2.0" fill="#2e4560"/>
<circle cx="186.9" cy="464.8" r="2.0" fill="#2e4560"/>
<circle cx="210.7" cy="383.8" r="2.0" fill="#cc0a2e"/>
<circle cx="218.8" cy="382.9" r="2.0" fill="#cc0a2e"/>
<circle cx="218.8" cy="388.9" r="2.0" fill="#cc0a2e"/>
<circle cx="210.7" cy="392.1" r="2.0" fill="#cc0a2e"/>
<circle cx="218.8" cy="397" r="2.0" fill="#cc0a2e"/>
<circle cx="210.7" cy="401" r="2.0" fill="#cc0a2e"/>
<circle cx="242.2" cy="398.9" r="2.0" fill="#2cb83c"/>
<circle cx="248.2" cy="403.9" r="2.0" fill="#2cb83c"/>
<circle cx="235.8" cy="407.9" r="2.0" fill="#2cb83c"/>
<circle cx="242.2" cy="409.7" r="2.0" fill="#2cb83c"/>
<circle cx="248.2" cy="409.3" r="2.0" fill="#2cb83c"/>
<circle cx="242.2" cy="413.9" r="2.0" fill="#2cb83c"/>
<circle cx="270.5" cy="405.7" r="2.0" fill="#5b1a72"/>
<circle cx="266.8" cy="409.8" r="2.0" fill="#5b1a72"/>
<circle cx="274.6" cy="411.5" r="2.0" fill="#5b1a72"/>
<circle cx="266.8" cy="414.4" r="2.0" fill="#5b1a72"/>
<circle cx="274.6" cy="415.8" r="2.0" fill="#5b1a72"/>
<circle cx="266.8" cy="419.3" r="2.0" fill="#5b1a72"/>
<circle cx="291.4" cy="402.7" r="2.0" fill="#0b6a4c"/>
<circle cx="291.4" cy="407.8" r="2.0" fill="#0b6a4c"/>
<circle cx="296.7" cy="405" r="2.0" fill="#0b6a4c"/>
<circle cx="301.7" cy="401.5" r="2.0" fill="#0b6a4c"/>
<circle cx="301.7" cy="406.8" r="2.0" fill="#0b6a4c"/>
<circle cx="306.4" cy="405.8" r="2.0" fill="#0b6a4c"/>
<circle cx="327.1" cy="428.2" r="2.0" fill="#8877c6"/>
<circle cx="321.2" cy="434.9" r="2.0" fill="#8877c6"/>
<circle cx="333.3" cy="434.9" r="2.0" fill="#8877c6"/>
<circle cx="327.2" cy="436.8" r="2.0" fill="#8877c6"/>
<circle cx="327.2" cy="441.3" r="2.0" fill="#8877c6"/>
<circle cx="327.2" cy="447" r="2.0" fill="#8877c6"/>
<circle cx="349.5" cy="432.2" r="2.0" fill="#2a9fe2"/>
<circle cx="361.5" cy="434.8" r="2.0" fill="#2a9fe2"/>
<circle cx="349.5" cy="437.9" r="2.0" fill="#2a9fe2"/>
<circle cx="355.5" cy="439.9" r="2.0" fill="#2a9fe2"/>
<circle cx="361.5" cy="441.4" r="2.0" fill="#2a9fe2"/>
<circle cx="349.5" cy="444.4" r="2.0" fill="#2a9fe2"/>
<line x1="214.9" y1="375.9" x2="242.1" y2="375.9" stroke="#333" stroke-width="1.25"/>
<text x="228.4" y="374.9" font-size="8" text-anchor="middle" fill="#111" font-weight="bold" font-style="normal" >*</text>
<line x1="267.3" y1="395.7" x2="327.1" y2="395.7" stroke="#333" stroke-width="1.25"/>
<text x="297" y="394.7" font-size="8" text-anchor="middle" fill="#111" font-weight="bold" font-style="normal" >*</text>
</svg></div>
</body></html>
